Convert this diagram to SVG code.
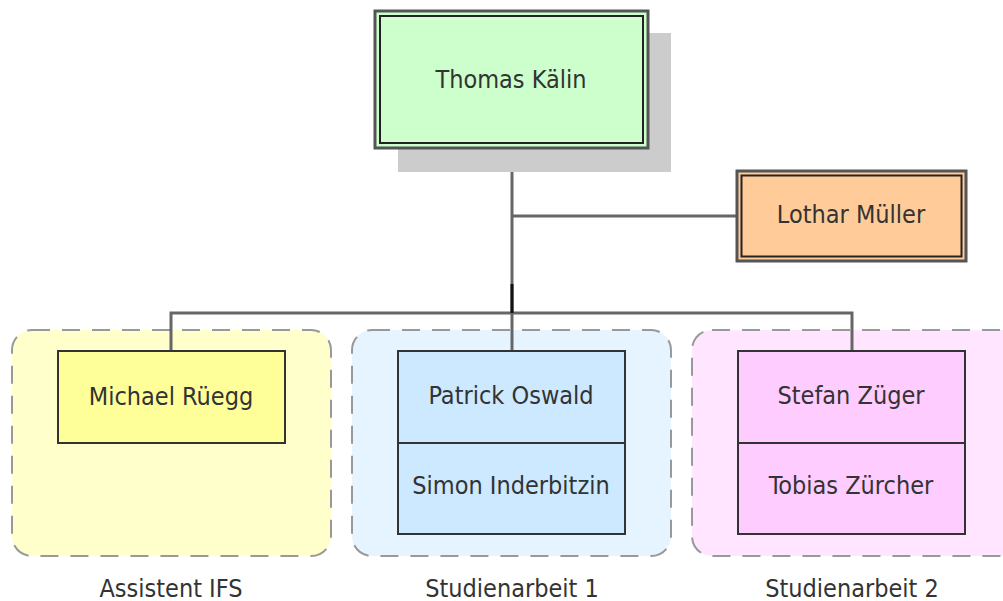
<svg xmlns="http://www.w3.org/2000/svg" width="1003" height="601" viewBox="0 0 1003 601">
  <style>
    text { font-family: "DejaVu Sans Condensed", "DejaVu Sans", sans-serif; font-stretch: condensed; font-size: 25px; fill: #333; text-anchor: middle; }
    .grp { stroke: #999; stroke-width: 2; stroke-dasharray: 18 12; }
    .box { stroke: #333; stroke-width: 2; }
    .outer { stroke: #555; stroke-width: 3; }
    .inner { fill: none; stroke: #222; stroke-width: 2; }
    .wire { stroke: #666; stroke-width: 3; fill: none; }
  </style>

  <!-- team groups -->
  <g id="group-assistent">
    <rect class="grp" x="12" y="330" width="319" height="226" rx="20" fill="#ffffcc"/>
    <text x="171" y="597">Assistent IFS</text>
  </g>
  <g id="group-sa1">
    <rect class="grp" x="352" y="330" width="319" height="226" rx="20" fill="#e5f4ff"/>
    <text x="512" y="597">Studienarbeit 1</text>
  </g>
  <g id="group-sa2">
    <rect class="grp" x="692" y="330" width="330" height="226" rx="20" fill="#ffe5ff"/>
    <text x="852" y="597">Studienarbeit 2</text>
  </g>

  <!-- connectors -->
  <g id="connectors">
    <line class="wire" x1="512" y1="148" x2="512" y2="352"/>
    <line class="wire" x1="512" y1="216" x2="737" y2="216"/>
    <polyline class="wire" points="171,352 171,313 852,313 852,352"/>
    <line x1="512" y1="284" x2="512" y2="313" stroke="#111" stroke-width="3"/>
  </g>

  <!-- head -->
  <g id="thomas">
    <rect x="398" y="33" width="273" height="139" fill="#cccccc"/>
    <rect class="outer" x="375" y="11" width="273" height="137" fill="#ccffcc"/>
    <rect class="inner" x="380" y="16" width="263" height="127"/>
    <text x="511" y="88">Thomas Kälin</text>
  </g>

  <g id="lothar">
    <rect class="outer" x="737" y="171" width="229" height="90" fill="#ffcc99"/>
    <rect class="inner" x="741.5" y="175.5" width="220" height="81"/>
    <text x="851" y="223">Lothar Müller</text>
  </g>

  <g id="michael">
    <rect class="box" x="58" y="351" width="227" height="92" fill="#ffff99"/>
    <text x="171" y="405">Michael Rüegg</text>
  </g>

  <g id="patrick">
    <rect class="box" x="398" y="351" width="227" height="92" fill="#cce9ff"/>
    <text x="511" y="404">Patrick Oswald</text>
  </g>
  <g id="simon">
    <rect class="box" x="398" y="443" width="227" height="91" fill="#cce9ff"/>
    <text x="511" y="494">Simon Inderbitzin</text>
  </g>

  <g id="stefan">
    <rect class="box" x="738" y="351" width="227" height="92" fill="#ffccff"/>
    <text x="851" y="404">Stefan Züger</text>
  </g>
  <g id="tobias">
    <rect class="box" x="738" y="443" width="227" height="91" fill="#ffccff"/>
    <text x="851" y="494">Tobias Zürcher</text>
  </g>
</svg>
